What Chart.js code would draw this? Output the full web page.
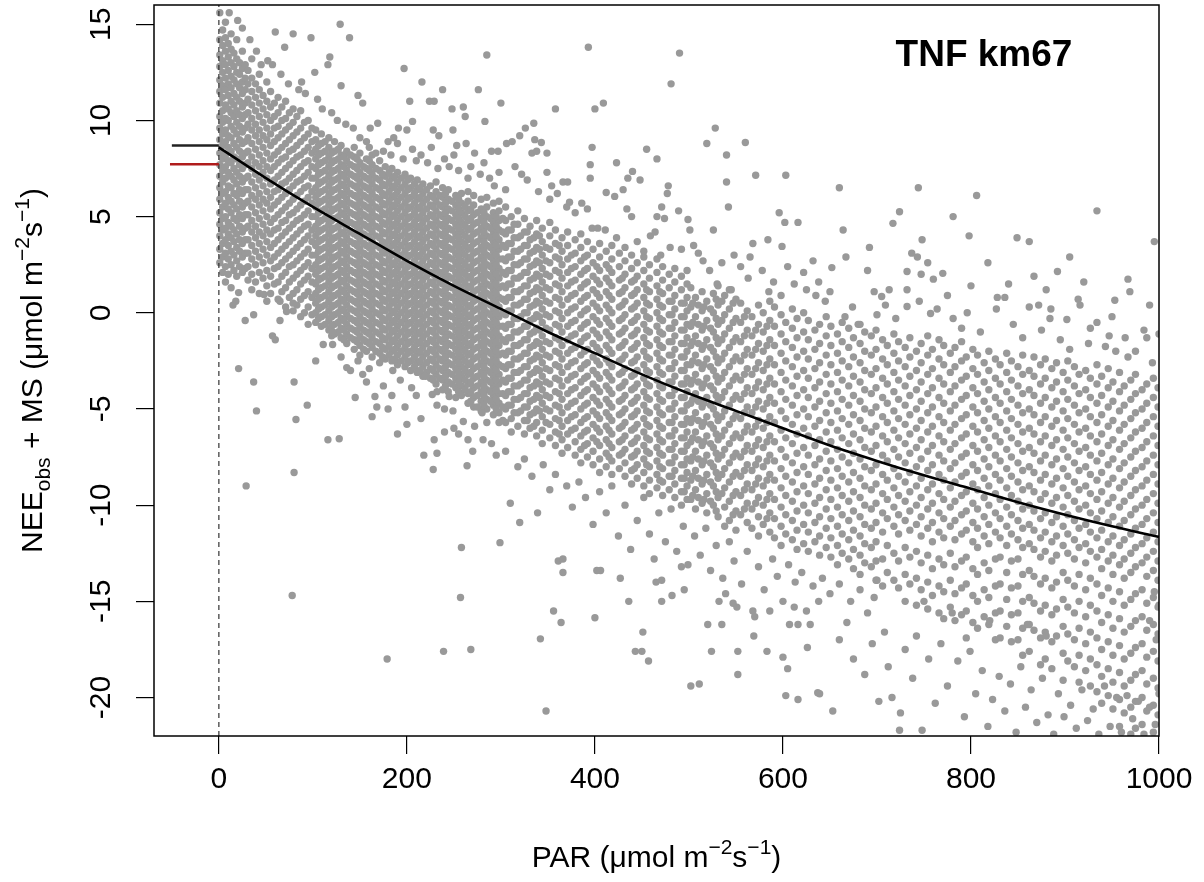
<!DOCTYPE html>
<html><head><meta charset="utf-8">
<script src="https://cdn.jsdelivr.net/npm/chart.js@4.4.1/dist/chart.umd.min.js"></script>
<style>html,body{margin:0;padding:0;background:#fff}canvas{display:block}</style>
</head><body>
<canvas id="c" width="1204" height="882"></canvas>
<script>
// ---------- DATA ----------
const xTicks = [0, 200, 400, 600, 800, 1000];
const yTicks = [-20, -15, -10, -5, 0, 5, 10, 15];

// fitted light-response curve (PAR, NEE)
const curvePar = [0,50,100,150,200,250,300,350,400,450,500,550,600,650,700,750,800,850,900,950,1000];
const curveNee = [8.6,7.0,5.5,4.1,2.7,1.4,0.2,-1.0,-2.1,-3.2,-4.2,-5.1,-6.0,-6.9,-7.7,-8.45,-9.15,-9.85,-10.5,-11.1,-11.65];

// short reference bars left of PAR = 0
const blackBarPar = [-50, 0];
const blackBarNee = [8.7, 8.7];
const redBarPar = [-52, 0];
const redBarNee = [7.72, 7.72];

// scatter cloud, stored as strips: [PAR, NEE, NEE, ...]
const stripsNearZero = [
[1,15.6,14.2,13.4,12.8,12.1,11.5,10.9,10.2,9.6,9.0,8.3,7.7,7.1,6.5,5.9,5.2,4.6,4.0,3.3,2.6],
[4,14.7,13.9,13.1,12.5,11.8,11.2,10.5,9.9,9.3,8.7,8.0,7.4,6.8,6.2,5.5,4.9,4.3,3.6,2.9,2.1],
[7,15.1,14.3,13.6,12.9,12.2,11.6,10.8,10.1,9.5,8.9,8.2,7.6,7.0,6.3,5.7,5.0,4.4,3.8,3.1,2.4,1.6],
[10,14.0,13.3,12.6,11.9,11.3,10.6,10.0,9.2,8.6,7.9,7.3,6.6,6.0,5.4,4.7,4.1,3.5,2.8,2.0],
[13,14.5,13.7,13.0,12.3,11.7,11.0,10.4,9.7,9.1,8.4,7.8,7.1,6.5,5.8,5.2,4.5,3.9,3.2,2.5,1.3],
[16,13.5,12.8,12.1,11.4,10.8,10.2,9.5,8.8,8.1,7.5,6.9,6.2,5.6,4.9,4.3,3.7,3.0,2.2],
[19,14.2,13.2,12.5,11.9,11.2,10.5,9.9,9.3,8.6,8.0,7.3,6.7,6.1,5.4,4.8,4.1,3.4,2.7,1.9],
[22,13.0,12.4,11.7,11.0,10.3,9.7,9.0,8.4,7.7,7.1,6.4,5.8,5.1,4.5,3.8,3.2,2.4],
[25,13.6,12.7,12.0,11.4,10.7,10.1,9.4,8.8,8.1,7.5,6.8,6.2,5.5,4.9,4.2,3.6,2.9,2.1],
[28,12.9,12.2,11.6,10.9,10.3,9.6,8.9,8.3,7.7,7.0,6.4,5.7,5.1,4.4,3.8,3.1,2.3]
];
const stripsLow = [
[31,12.6,11.9,11.1,10.4,9.8,9.1,8.4,7.8,7.1,6.4,5.8,5.1,4.5,3.8,3.1,2.4,1.7],
[35,13.2,12.2,11.5,10.8,10.1,9.5,8.8,8.1,7.5,6.8,6.1,5.5,4.8,4.2,3.5,2.8,2.0,1.2],
[39,11.9,11.2,10.5,9.8,9.2,8.5,7.8,7.2,6.5,5.9,5.2,4.5,3.9,3.2,2.5,1.6],
[43,12.4,11.6,10.9,10.2,9.5,8.9,8.2,7.6,6.9,6.2,5.6,4.9,4.2,3.6,2.9,2.1,1.0],
[47,11.3,10.6,9.9,9.2,8.6,7.9,7.3,6.6,5.9,5.3,4.6,4.0,3.3,2.6,1.8],
[51,12.0,11.0,10.3,9.6,9.0,8.3,7.6,7.0,6.3,5.7,5.0,4.3,3.7,3.0,2.2,1.4,0.6],
[55,11.5,10.7,10.0,9.3,8.7,8.0,7.4,6.7,6.0,5.4,4.7,4.1,3.4,2.7,1.9,1.0],
[59,10.9,10.2,9.6,8.9,8.2,7.6,6.9,6.3,5.6,4.9,4.3,3.6,2.9,2.3,1.5],
[63,11.2,10.4,9.7,9.1,8.4,7.8,7.1,6.4,5.8,5.1,4.4,3.8,3.1,2.4,1.6,0.7],
[67,10.7,10.0,9.3,8.6,8.0,7.3,6.7,6.0,5.3,4.7,4.0,3.3,2.6,1.9,1.1],
[71,11.0,10.1,9.5,8.8,8.1,7.5,6.8,6.2,5.5,4.8,4.2,3.5,2.8,2.1,1.3,0.3],
[75,10.4,9.7,9.0,8.4,7.7,7.0,6.4,5.7,5.1,4.4,3.7,3.0,2.4,1.6,0.8],
[79,10.6,9.9,9.2,8.5,7.9,7.2,6.6,5.9,5.2,4.6,3.9,3.2,2.5,1.8,1.0,0.1],
[83,10.2,9.4,8.7,8.1,7.4,6.8,6.1,5.4,4.8,4.1,3.4,2.7,2.0,1.2,0.4],
[87,10.5,9.6,8.9,8.2,7.6,6.9,6.3,5.6,4.9,4.3,3.6,2.9,2.2,1.5,0.7,-0.2],
[91,9.9,9.1,8.4,7.8,7.1,6.5,5.8,5.1,4.5,3.8,3.1,2.4,1.7,0.9,0.0],
[95,10.0,9.3,8.6,7.9,7.3,6.6,6.0,5.3,4.6,4.0,3.3,2.6,1.9,1.1,0.3,-0.6],
[99,9.6,8.9,8.3,7.6,7.0,6.3,5.7,5.0,4.3,3.7,3.0,2.3,1.6,0.8,-0.1]
];
const stripsMid = [
[103,9.5,9.0,8.5,8.0,7.5,7.0,6.5,6.0,5.5,5.0,4.5,4.0,3.5,3.0,2.5,2.0,1.5,1.0,0.5,0.0,-0.5],
[109,9.3,8.8,8.3,7.8,7.3,6.8,6.3,5.8,5.3,4.8,4.3,3.8,3.3,2.8,2.3,1.8,1.3,0.8,0.3,-0.2,-0.7],
[117,9.1,8.6,8.1,7.6,7.1,6.6,6.1,5.6,5.1,4.6,4.1,3.6,3.1,2.6,2.1,1.6,1.1,0.6,0.1,-0.4,-0.9],
[123,8.9,8.4,7.9,7.4,6.9,6.4,5.9,5.4,4.9,4.4,3.9,3.4,2.9,2.4,1.9,1.4,0.9,0.4,-0.1,-0.6,-1.1],
[130,8.7,8.2,7.7,7.2,6.7,6.2,5.7,5.2,4.7,4.2,3.7,3.2,2.7,2.2,1.7,1.2,0.7,0.2,-0.3,-0.8,-1.3],
[136,8.4,7.9,7.4,6.9,6.4,5.9,5.4,4.9,4.4,3.9,3.4,2.9,2.4,1.9,1.4,0.9,0.4,-0.1,-0.6,-1.1,-1.6],
[144,8.6,8.1,7.6,7.1,6.6,6.1,5.6,5.1,4.6,4.1,3.6,3.1,2.6,2.1,1.6,1.1,0.6,0.1,-0.4,-0.9,-1.4,-1.9],
[150,8.3,7.8,7.3,6.8,6.3,5.8,5.3,4.8,4.3,3.8,3.3,2.8,2.3,1.8,1.3,0.8,0.3,-0.2,-0.7,-1.2,-1.7,-2.2],
[157,8.0,7.5,7.0,6.5,6.0,5.5,5.0,4.5,4.0,3.5,3.0,2.5,2.0,1.5,1.0,0.5,0.0,-0.5,-1.0,-1.5,-2.0],
[163,8.2,7.7,7.2,6.7,6.2,5.7,5.2,4.7,4.2,3.7,3.2,2.7,2.2,1.7,1.2,0.7,0.2,-0.3,-0.8,-1.3,-1.8,-2.3],
[171,7.9,7.4,6.9,6.4,5.9,5.4,4.9,4.4,3.9,3.4,2.9,2.4,1.9,1.4,0.9,0.4,-0.1,-0.6,-1.1,-1.6,-2.1,-2.6],
[177,7.6,7.1,6.6,6.1,5.6,5.1,4.6,4.1,3.6,3.1,2.6,2.1,1.6,1.1,0.6,0.1,-0.4,-0.9,-1.4,-1.9,-2.4],
[184,7.5,7.0,6.5,6.0,5.5,5.0,4.5,4.0,3.5,3.0,2.5,2.0,1.5,1.0,0.5,0.0,-0.5,-1.0,-1.5,-2.0,-2.5],
[190,7.3,6.8,6.3,5.8,5.3,4.8,4.3,3.8,3.3,2.8,2.3,1.8,1.3,0.8,0.3,-0.2,-0.7,-1.2,-1.7,-2.2,-2.7],
[198,7.2,6.7,6.2,5.7,5.2,4.7,4.2,3.7,3.2,2.7,2.2,1.7,1.2,0.7,0.2,-0.3,-0.8,-1.3,-1.8,-2.3,-2.8],
[204,7.0,6.5,6.0,5.5,5.0,4.5,4.0,3.5,3.0,2.5,2.0,1.5,1.0,0.5,0.0,-0.5,-1.0,-1.5,-2.0,-2.5,-3.0],
[211,6.9,6.4,5.9,5.4,4.9,4.4,3.9,3.4,2.9,2.4,1.9,1.4,0.9,0.4,-0.1,-0.6,-1.1,-1.6,-2.1,-2.6,-3.1],
[217,6.7,6.2,5.7,5.2,4.7,4.2,3.7,3.2,2.7,2.2,1.7,1.2,0.7,0.2,-0.3,-0.8,-1.3,-1.8,-2.3,-2.8,-3.3],
[225,6.6,6.1,5.6,5.1,4.6,4.1,3.6,3.1,2.6,2.1,1.6,1.1,0.6,0.1,-0.4,-0.9,-1.4,-1.9,-2.4,-2.9,-3.4],
[231,6.8,6.3,5.8,5.3,4.8,4.3,3.8,3.3,2.8,2.3,1.8,1.3,0.8,0.3,-0.2,-0.7,-1.2,-1.7,-2.2,-2.7,-3.2,-3.7],
[238,6.5,6.0,5.5,5.0,4.5,4.0,3.5,3.0,2.5,2.0,1.5,1.0,0.5,0.0,-0.5,-1.0,-1.5,-2.0,-2.5,-3.0,-3.5,-4.0],
[244,6.4,5.9,5.4,4.9,4.4,3.9,3.4,2.9,2.4,1.9,1.4,0.9,0.4,-0.1,-0.6,-1.1,-1.6,-2.1,-2.6,-3.1,-3.6,-4.1],
[252,6.1,5.6,5.1,4.6,4.1,3.6,3.1,2.6,2.1,1.6,1.1,0.6,0.1,-0.4,-0.9,-1.4,-1.9,-2.4,-2.9,-3.4,-3.9,-4.4],
[258,6.2,5.7,5.2,4.7,4.2,3.7,3.2,2.7,2.2,1.7,1.2,0.7,0.2,-0.3,-0.8,-1.3,-1.8,-2.3,-2.8,-3.3,-3.8,-4.3],
[265,6.3,5.8,5.3,4.8,4.3,3.8,3.3,2.8,2.3,1.8,1.3,0.8,0.3,-0.2,-0.7,-1.2,-1.7,-2.2,-2.7,-3.2,-3.7,-4.2,-4.7],
[271,6.1,5.6,5.1,4.6,4.1,3.6,3.1,2.6,2.1,1.6,1.1,0.6,0.1,-0.4,-0.9,-1.4,-1.9,-2.4,-2.9,-3.4,-3.9,-4.4,-4.9],
[279,5.9,5.4,4.9,4.4,3.9,3.4,2.9,2.4,1.9,1.4,0.9,0.4,-0.1,-0.6,-1.1,-1.6,-2.1,-2.6,-3.1,-3.6,-4.1,-4.6,-5.1],
[285,6.0,5.5,5.0,4.5,4.0,3.5,3.0,2.5,2.0,1.5,1.0,0.5,0.0,-0.5,-1.0,-1.5,-2.0,-2.5,-3.0,-3.5,-4.0,-4.5,-5.0],
[292,5.7,5.2,4.7,4.2,3.7,3.2,2.7,2.2,1.7,1.2,0.7,0.2,-0.3,-0.8,-1.3,-1.8,-2.3,-2.8,-3.3,-3.8,-4.3,-4.8,-5.3],
[298,5.8,5.3,4.8,4.3,3.8,3.3,2.8,2.3,1.8,1.3,0.8,0.3,-0.2,-0.7,-1.2,-1.7,-2.2,-2.7,-3.2,-3.7,-4.2,-4.7,-5.2,-5.7]
];
// extra points filling the dense core between the strips above
const stripsMidFill = [
[106,8.7,8.2,7.7,7.2,6.7,6.2,5.7,5.2,4.7,4.2,3.7,3.2,2.7,2.2,1.7,1.2,0.7,0.2,-0.3],
[113,8.9,8.4,7.9,7.4,6.9,6.4,5.9,5.4,4.9,4.4,3.9,3.4,2.9,2.4,1.9,1.4,0.9,0.4,-0.1,-0.6],
[120,8.3,7.8,7.3,6.8,6.3,5.8,5.3,4.8,4.3,3.8,3.3,2.8,2.3,1.8,1.3,0.8,0.3,-0.2,-0.7,-1.2],
[127,8.5,8.0,7.5,7.0,6.5,6.0,5.5,5.0,4.5,4.0,3.5,3.0,2.5,2.0,1.5,1.0,0.5,0.0,-0.5,-1.0],
[133,8.1,7.6,7.1,6.6,6.1,5.6,5.1,4.6,4.1,3.6,3.1,2.6,2.1,1.6,1.1,0.6,0.1,-0.4,-0.9,-1.4],
[140,8.2,7.7,7.2,6.7,6.2,5.7,5.2,4.7,4.2,3.7,3.2,2.7,2.2,1.7,1.2,0.7,0.2,-0.3,-0.8,-1.3],
[147,8.0,7.5,7.0,6.5,6.0,5.5,5.0,4.5,4.0,3.5,3.0,2.5,2.0,1.5,1.0,0.5,0.0,-0.5,-1.0,-1.5],
[154,7.6,7.1,6.6,6.1,5.6,5.1,4.6,4.1,3.6,3.1,2.6,2.1,1.6,1.1,0.6,0.1,-0.4,-0.9,-1.4,-1.9],
[160,7.9,7.4,6.9,6.4,5.9,5.4,4.9,4.4,3.9,3.4,2.9,2.4,1.9,1.4,0.9,0.4,-0.1,-0.6,-1.1,-1.6],
[167,7.5,7.0,6.5,6.0,5.5,5.0,4.5,4.0,3.5,3.0,2.5,2.0,1.5,1.0,0.5,0.0,-0.5,-1.0,-1.5,-2.0],
[174,7.2,6.7,6.2,5.7,5.2,4.7,4.2,3.7,3.2,2.7,2.2,1.7,1.2,0.7,0.2,-0.3,-0.8,-1.3,-1.8,-2.3],
[181,7.3,6.8,6.3,5.8,5.3,4.8,4.3,3.8,3.3,2.8,2.3,1.8,1.3,0.8,0.3,-0.2,-0.7,-1.2,-1.7,-2.2],
[187,7.1,6.6,6.1,5.6,5.1,4.6,4.1,3.6,3.1,2.6,2.1,1.6,1.1,0.6,0.1,-0.4,-0.9,-1.4,-1.9,-2.4],
[194,7.0,6.5,6.0,5.5,5.0,4.5,4.0,3.5,3.0,2.5,2.0,1.5,1.0,0.5,0.0,-0.5,-1.0,-1.5,-2.0,-2.5],
[201,6.9,6.4,5.9,5.4,4.9,4.4,3.9,3.4,2.9,2.4,1.9,1.4,0.9,0.4,-0.1,-0.6,-1.1,-1.6,-2.1,-2.6],
[208,6.7,6.2,5.7,5.2,4.7,4.2,3.7,3.2,2.7,2.2,1.7,1.2,0.7,0.2,-0.3,-0.8,-1.3,-1.8,-2.3,-2.8],
[214,6.5,6.0,5.5,5.0,4.5,4.0,3.5,3.0,2.5,2.0,1.5,1.0,0.5,0.0,-0.5,-1.0,-1.5,-2.0,-2.5,-3.0],
[221,6.4,5.9,5.4,4.9,4.4,3.9,3.4,2.9,2.4,1.9,1.4,0.9,0.4,-0.1,-0.6,-1.1,-1.6,-2.1,-2.6,-3.1],
[228,6.0,5.5,5.0,4.5,4.0,3.5,3.0,2.5,2.0,1.5,1.0,0.5,0.0,-0.5,-1.0,-1.5,-2.0,-2.5,-3.0,-3.5],
[235,6.1,5.6,5.1,4.6,4.1,3.6,3.1,2.6,2.1,1.6,1.1,0.6,0.1,-0.4,-0.9,-1.4,-1.9,-2.4,-2.9,-3.4],
[241,6.2,5.7,5.2,4.7,4.2,3.7,3.2,2.7,2.2,1.7,1.2,0.7,0.2,-0.3,-0.8,-1.3,-1.8,-2.3,-2.8,-3.3,-3.8],
[248,5.8,5.3,4.8,4.3,3.8,3.3,2.8,2.3,1.8,1.3,0.8,0.3,-0.2,-0.7,-1.2,-1.7,-2.2,-2.7,-3.2,-3.7],
[255,5.9,5.4,4.9,4.4,3.9,3.4,2.9,2.4,1.9,1.4,0.9,0.4,-0.1,-0.6,-1.1,-1.6,-2.1,-2.6,-3.1,-3.6,-4.1],
[262,5.5,5.0,4.5,4.0,3.5,3.0,2.5,2.0,1.5,1.0,0.5,0.0,-0.5,-1.0,-1.5,-2.0,-2.5,-3.0,-3.5,-4.0],
[268,5.4,4.9,4.4,3.9,3.4,2.9,2.4,1.9,1.4,0.9,0.4,-0.1,-0.6,-1.1,-1.6,-2.1,-2.6,-3.1,-3.6,-4.1,-4.6],
[275,5.2,4.7,4.2,3.7,3.2,2.7,2.2,1.7,1.2,0.7,0.2,-0.3,-0.8,-1.3,-1.8,-2.3,-2.8,-3.3,-3.8,-4.3],
[282,5.2,4.7,4.2,3.7,3.2,2.7,2.2,1.7,1.2,0.7,0.2,-0.3,-0.8,-1.3,-1.8,-2.3,-2.8,-3.3,-3.8,-4.3,-4.8],
[289,4.9,4.4,3.9,3.4,2.9,2.4,1.9,1.4,0.9,0.4,-0.1,-0.6,-1.1,-1.6,-2.1,-2.6,-3.1,-3.6,-4.1,-4.6],
[295,5.0,4.5,4.0,3.5,3.0,2.5,2.0,1.5,1.0,0.5,0.0,-0.5,-1.0,-1.5,-2.0,-2.5,-3.0,-3.5,-4.0,-4.5,-5.0]
];
const stripsUpper = [
[305,5.5,4.8,4.1,3.4,2.7,2.0,1.3,0.6,-0.1,-0.8,-1.5,-2.2,-2.9,-3.6,-4.3,-5.0,-5.7],
[311,5.0,4.3,3.6,2.9,2.2,1.5,0.8,0.1,-0.6,-1.3,-2.0,-2.7,-3.4,-4.1,-4.8,-5.5,-6.2],
[318,5.3,4.6,3.9,3.2,2.5,1.8,1.1,0.4,-0.3,-1.0,-1.7,-2.4,-3.1,-3.8,-4.5,-5.2,-5.9],
[325,4.9,4.2,3.5,2.8,2.1,1.4,0.7,0.0,-0.7,-1.4,-2.1,-2.8,-3.5,-4.2,-4.9,-5.6,-6.3],
[331,4.5,3.8,3.1,2.4,1.7,1.0,0.3,-0.4,-1.1,-1.8,-2.5,-3.2,-3.9,-4.6,-5.3,-6.0],
[338,4.8,4.1,3.4,2.7,2.0,1.3,0.6,-0.1,-0.8,-1.5,-2.2,-2.9,-3.6,-4.3,-5.0,-5.7,-6.4],
[344,4.4,3.7,3.0,2.3,1.6,0.9,0.2,-0.5,-1.2,-1.9,-2.6,-3.3,-4.0,-4.7,-5.4,-6.1,-6.8],
[352,4.7,4.0,3.3,2.6,1.9,1.2,0.5,-0.2,-0.9,-1.6,-2.3,-3.0,-3.7,-4.4,-5.1,-5.8,-6.5],
[358,4.3,3.6,2.9,2.2,1.5,0.8,0.1,-0.6,-1.3,-2.0,-2.7,-3.4,-4.1,-4.8,-5.5,-6.2,-6.9],
[365,3.9,3.2,2.5,1.8,1.1,0.4,-0.3,-1.0,-1.7,-2.4,-3.1,-3.8,-4.5,-5.2,-5.9,-6.6,-7.3],
[371,4.2,3.5,2.8,2.1,1.4,0.7,0.0,-0.7,-1.4,-2.1,-2.8,-3.5,-4.2,-4.9,-5.6,-6.3,-7.0],
[379,3.8,3.1,2.4,1.7,1.0,0.3,-0.4,-1.1,-1.8,-2.5,-3.2,-3.9,-4.6,-5.3,-6.0,-6.7,-7.4],
[385,4.1,3.4,2.7,2.0,1.3,0.6,-0.1,-0.8,-1.5,-2.2,-2.9,-3.6,-4.3,-5.0,-5.7,-6.4,-7.1,-7.8],
[392,3.7,3.0,2.3,1.6,0.9,0.2,-0.5,-1.2,-1.9,-2.6,-3.3,-4.0,-4.7,-5.4,-6.1,-6.8,-7.5],
[398,3.3,2.6,1.9,1.2,0.5,-0.2,-0.9,-1.6,-2.3,-3.0,-3.7,-4.4,-5.1,-5.8,-6.5,-7.2,-7.9],
[405,3.6,2.9,2.2,1.5,0.8,0.1,-0.6,-1.3,-2.0,-2.7,-3.4,-4.1,-4.8,-5.5,-6.2,-6.9,-7.6,-8.3],
[412,3.2,2.5,1.8,1.1,0.4,-0.3,-1.0,-1.7,-2.4,-3.1,-3.8,-4.5,-5.2,-5.9,-6.6,-7.3,-8.0],
[418,3.5,2.8,2.1,1.4,0.7,0.0,-0.7,-1.4,-2.1,-2.8,-3.5,-4.2,-4.9,-5.6,-6.3,-7.0,-7.7,-8.4],
[426,3.1,2.4,1.7,1.0,0.3,-0.4,-1.1,-1.8,-2.5,-3.2,-3.9,-4.6,-5.3,-6.0,-6.7,-7.4,-8.1],
[432,3.4,2.7,2.0,1.3,0.6,-0.1,-0.8,-1.5,-2.2,-2.9,-3.6,-4.3,-5.0,-5.7,-6.4,-7.1,-7.8,-8.5],
[439,3.0,2.3,1.6,0.9,0.2,-0.5,-1.2,-1.9,-2.6,-3.3,-4.0,-4.7,-5.4,-6.1,-6.8,-7.5,-8.2,-8.9],
[445,2.6,1.9,1.2,0.5,-0.2,-0.9,-1.6,-2.3,-3.0,-3.7,-4.4,-5.1,-5.8,-6.5,-7.2,-7.9,-8.6],
[452,2.9,2.2,1.5,0.8,0.1,-0.6,-1.3,-2.0,-2.7,-3.4,-4.1,-4.8,-5.5,-6.2,-6.9,-7.6,-8.3,-9.0],
[458,2.5,1.8,1.1,0.4,-0.3,-1.0,-1.7,-2.4,-3.1,-3.8,-4.5,-5.2,-5.9,-6.6,-7.3,-8.0,-8.7,-9.4],
[466,2.8,2.1,1.4,0.7,0.0,-0.7,-1.4,-2.1,-2.8,-3.5,-4.2,-4.9,-5.6,-6.3,-7.0,-7.7,-8.4,-9.1],
[472,2.4,1.7,1.0,0.3,-0.4,-1.1,-1.8,-2.5,-3.2,-3.9,-4.6,-5.3,-6.0,-6.7,-7.4,-8.1,-8.8,-9.5],
[479,2.0,1.3,0.6,-0.1,-0.8,-1.5,-2.2,-2.9,-3.6,-4.3,-5.0,-5.7,-6.4,-7.1,-7.8,-8.5,-9.2],
[485,2.3,1.6,0.9,0.2,-0.5,-1.2,-1.9,-2.6,-3.3,-4.0,-4.7,-5.4,-6.1,-6.8,-7.5,-8.2,-8.9,-9.6],
[492,1.9,1.2,0.5,-0.2,-0.9,-1.6,-2.3,-3.0,-3.7,-4.4,-5.1,-5.8,-6.5,-7.2,-7.9,-8.6,-9.3,-10.0],
[498,2.2,1.5,0.8,0.1,-0.6,-1.3,-2.0,-2.7,-3.4,-4.1,-4.8,-5.5,-6.2,-6.9,-7.6,-8.3,-9.0,-9.7]
];
const stripsUpperFill = [
[302,4.9,4.2,3.5,2.8,2.1,1.4,0.7,0.0,-0.7,-1.4,-2.1,-2.8,-3.5,-4.2,-4.9,-5.6],
[308,4.3,3.6,2.9,2.2,1.5,0.8,0.1,-0.6,-1.3,-2.0,-2.7,-3.4,-4.1,-4.8],
[314,4.6,3.9,3.2,2.5,1.8,1.1,0.4,-0.3,-1.0,-1.7,-2.4,-3.1,-3.8,-4.5,-5.2],
[321,4.0,3.3,2.6,1.9,1.2,0.5,-0.2,-0.9,-1.6,-2.3,-3.0,-3.7,-4.4,-5.1],
[328,4.2,3.5,2.8,2.1,1.4,0.7,0.0,-0.7,-1.4,-2.1,-2.8,-3.5,-4.2,-4.9,-5.6],
[335,3.9,3.2,2.5,1.8,1.1,0.4,-0.3,-1.0,-1.7,-2.4,-3.1,-3.8,-4.5,-5.2,-5.9],
[341,4.0,3.3,2.6,1.9,1.2,0.5,-0.2,-0.9,-1.6,-2.3,-3.0,-3.7,-4.4,-5.1],
[348,3.4,2.7,2.0,1.3,0.6,-0.1,-0.8,-1.5,-2.2,-2.9,-3.6,-4.3,-5.0,-5.7],
[362,3.5,2.8,2.1,1.4,0.7,0.0,-0.7,-1.4,-2.1,-2.8,-3.5,-4.2,-4.9,-5.6,-6.3],
[375,3.0,2.3,1.6,0.9,0.2,-0.5,-1.2,-1.9,-2.6,-3.3,-4.0,-4.7,-5.4,-6.1],
[389,2.9,2.2,1.5,0.8,0.1,-0.6,-1.3,-2.0,-2.7,-3.4,-4.1,-4.8,-5.5,-6.2,-6.9],
[402,2.4,1.7,1.0,0.3,-0.4,-1.1,-1.8,-2.5,-3.2,-3.9,-4.6,-5.3,-6.0,-6.7],
[415,2.3,1.6,0.9,0.2,-0.5,-1.2,-1.9,-2.6,-3.3,-4.0,-4.7,-5.4,-6.1,-6.8,-7.5],
[429,1.8,1.1,0.4,-0.3,-1.0,-1.7,-2.4,-3.1,-3.8,-4.5,-5.2,-5.9,-6.6,-7.3],
[442,1.7,1.0,0.3,-0.4,-1.1,-1.8,-2.5,-3.2,-3.9,-4.6,-5.3,-6.0,-6.7,-7.4,-8.1],
[455,1.2,0.5,-0.2,-0.9,-1.6,-2.3,-3.0,-3.7,-4.4,-5.1,-5.8,-6.5,-7.2,-7.9],
[469,1.1,0.4,-0.3,-1.0,-1.7,-2.4,-3.1,-3.8,-4.5,-5.2,-5.9,-6.6,-7.3,-8.0,-8.7],
[482,0.6,-0.1,-0.8,-1.5,-2.2,-2.9,-3.6,-4.3,-5.0,-5.7,-6.4,-7.1,-7.8,-8.5],
[495,0.5,-0.2,-0.9,-1.6,-2.3,-3.0,-3.7,-4.4,-5.1,-5.8,-6.5,-7.2,-7.9,-8.6,-9.3]
];
const stripsHigh = [
[502,1.3,0.3,-0.7,-1.7,-2.7,-3.7,-4.7,-5.7,-6.7,-7.7,-8.7,-9.7],
[507,0.8,-0.2,-1.2,-2.2,-3.2,-4.2,-5.2,-6.2,-7.2,-8.2,-9.2,-10.2],
[514,1.1,0.1,-0.9,-1.9,-2.9,-3.9,-4.9,-5.9,-6.9,-7.9,-8.9,-9.9],
[519,0.6,-0.4,-1.4,-2.4,-3.4,-4.4,-5.4,-6.4,-7.4,-8.4,-9.4,-10.4],
[526,1.0,0.0,-1.0,-2.0,-3.0,-4.0,-5.0,-6.0,-7.0,-8.0,-9.0,-10.0],
[531,1.4,0.4,-0.6,-1.6,-2.6,-3.6,-4.6,-5.6,-6.6,-7.6,-8.6,-9.6,-10.6],
[538,0.9,-0.1,-1.1,-2.1,-3.1,-4.1,-5.1,-6.1,-7.1,-8.1,-9.1,-10.1,-11.1],
[543,1.2,0.2,-0.8,-1.8,-2.8,-3.8,-4.8,-5.8,-6.8,-7.8,-8.8,-9.8,-10.8],
[550,0.7,-0.3,-1.3,-2.3,-3.3,-4.3,-5.3,-6.3,-7.3,-8.3,-9.3,-10.3,-11.3],
[555,0.5,-0.5,-1.5,-2.5,-3.5,-4.5,-5.5,-6.5,-7.5,-8.5,-9.5,-10.5],
[562,0.1,-0.9,-1.9,-2.9,-3.9,-4.9,-5.9,-6.9,-7.9,-8.9,-9.9,-10.9],
[567,-0.2,-1.2,-2.2,-3.2,-4.2,-5.2,-6.2,-7.2,-8.2,-9.2,-10.2,-11.2],
[574,0.4,-0.6,-1.6,-2.6,-3.6,-4.6,-5.6,-6.6,-7.6,-8.6,-9.6,-10.6,-11.6],
[579,0.0,-1.0,-2.0,-3.0,-4.0,-5.0,-6.0,-7.0,-8.0,-9.0,-10.0,-11.0],
[586,0.6,-0.4,-1.4,-2.4,-3.4,-4.4,-5.4,-6.4,-7.4,-8.4,-9.4,-10.4,-11.4],
[591,0.3,-0.7,-1.7,-2.7,-3.7,-4.7,-5.7,-6.7,-7.7,-8.7,-9.7,-10.7,-11.7],
[598,-0.1,-1.1,-2.1,-3.1,-4.1,-5.1,-6.1,-7.1,-8.1,-9.1,-10.1,-11.1,-12.1],
[603,-0.5,-1.5,-2.5,-3.5,-4.5,-5.5,-6.5,-7.5,-8.5,-9.5,-10.5,-11.5],
[610,0.2,-0.8,-1.8,-2.8,-3.8,-4.8,-5.8,-6.8,-7.8,-8.8,-9.8,-10.8,-11.8],
[615,-0.3,-1.3,-2.3,-3.3,-4.3,-5.3,-6.3,-7.3,-8.3,-9.3,-10.3,-11.3,-12.3],
[622,0.0,-1.0,-2.0,-3.0,-4.0,-5.0,-6.0,-7.0,-8.0,-9.0,-10.0,-11.0,-12.0],
[627,-0.4,-1.4,-2.4,-3.4,-4.4,-5.4,-6.4,-7.4,-8.4,-9.4,-10.4,-11.4,-12.4],
[634,-0.9,-1.9,-2.9,-3.9,-4.9,-5.9,-6.9,-7.9,-8.9,-9.9,-10.9,-11.9],
[639,-0.6,-1.6,-2.6,-3.6,-4.6,-5.6,-6.6,-7.6,-8.6,-9.6,-10.6,-11.6,-12.6],
[646,-0.2,-1.2,-2.2,-3.2,-4.2,-5.2,-6.2,-7.2,-8.2,-9.2,-10.2,-11.2,-12.2],
[651,-0.7,-1.7,-2.7,-3.7,-4.7,-5.7,-6.7,-7.7,-8.7,-9.7,-10.7,-11.7,-12.7],
[658,-1.1,-2.1,-3.1,-4.1,-5.1,-6.1,-7.1,-8.1,-9.1,-10.1,-11.1,-12.1,-13.1],
[663,-0.5,-1.5,-2.5,-3.5,-4.5,-5.5,-6.5,-7.5,-8.5,-9.5,-10.5,-11.5,-12.5],
[670,-0.8,-1.8,-2.8,-3.8,-4.8,-5.8,-6.8,-7.8,-8.8,-9.8,-10.8,-11.8,-12.8],
[675,-1.3,-2.3,-3.3,-4.3,-5.3,-6.3,-7.3,-8.3,-9.3,-10.3,-11.3,-12.3,-13.3],
[682,-0.6,-1.6,-2.6,-3.6,-4.6,-5.6,-6.6,-7.6,-8.6,-9.6,-10.6,-11.6,-12.6,-13.6],
[687,-1.0,-2.0,-3.0,-4.0,-5.0,-6.0,-7.0,-8.0,-9.0,-10.0,-11.0,-12.0,-13.0],
[694,-1.2,-2.2,-3.2,-4.2,-5.2,-6.2,-7.2,-8.2,-9.2,-10.2,-11.2,-12.2,-13.2],
[699,-0.9,-1.9,-2.9,-3.9,-4.9,-5.9,-6.9,-7.9,-8.9,-9.9,-10.9,-11.9,-12.9,-13.9]
];
const stripsHighFill = [
[504,0.5,-0.5,-1.5,-2.5,-3.5,-4.5,-5.5,-6.5,-7.5,-8.5,-9.5],
[510,0.4,-0.6,-1.6,-2.6,-3.6,-4.6,-5.6,-6.6,-7.6,-8.6,-9.6],
[516,0.3,-0.7,-1.7,-2.7,-3.7,-4.7,-5.7,-6.7,-7.7,-8.7,-9.7],
[523,0.2,-0.8,-1.8,-2.8,-3.8,-4.8,-5.8,-6.8,-7.8,-8.8,-9.8],
[529,0.7,-0.3,-1.3,-2.3,-3.3,-4.3,-5.3,-6.3,-7.3,-8.3,-9.3,-10.3],
[535,0.6,-0.4,-1.4,-2.4,-3.4,-4.4,-5.4,-6.4,-7.4,-8.4,-9.4],
[547,0.5,-0.5,-1.5,-2.5,-3.5,-4.5,-5.5,-6.5,-7.5,-8.5,-9.5,-10.5],
[559,-0.2,-1.2,-2.2,-3.2,-4.2,-5.2,-6.2,-7.2,-8.2,-9.2,-10.2],
[571,-0.9,-1.9,-2.9,-3.9,-4.9,-5.9,-6.9,-7.9,-8.9,-9.9],
[583,-0.7,-1.7,-2.7,-3.7,-4.7,-5.7,-6.7,-7.7,-8.7,-9.7,-10.7]
];
const stripsTop = [
[706,-1.4,-2.4,-3.4,-4.4,-5.4,-6.4,-7.4,-8.4,-9.4,-10.4,-11.4,-12.8,-14.2],
[711,-1.7,-2.7,-3.7,-4.7,-5.7,-6.7,-7.7,-8.7,-9.7,-10.7,-12.1,-13.5],
[718,-1.1,-2.1,-3.1,-4.1,-5.1,-6.1,-7.1,-8.1,-9.1,-10.1,-11.1,-12.5,-13.9],
[723,-1.5,-2.5,-3.5,-4.5,-5.5,-6.5,-7.5,-8.5,-9.5,-10.5,-11.5,-12.9,-14.3],
[730,-1.8,-2.8,-3.8,-4.8,-5.8,-6.8,-7.8,-8.8,-9.8,-10.8,-12.2,-13.6,-15.0],
[735,-1.3,-2.3,-3.3,-4.3,-5.3,-6.3,-7.3,-8.3,-9.3,-10.3,-11.3,-12.7,-14.1],
[742,-2.0,-3.0,-4.0,-5.0,-6.0,-7.0,-8.0,-9.0,-10.0,-11.0,-12.4,-13.8,-15.2],
[747,-1.6,-2.6,-3.6,-4.6,-5.6,-6.6,-7.6,-8.6,-9.6,-10.6,-11.6,-13.0,-14.4],
[754,-1.2,-2.2,-3.2,-4.2,-5.2,-6.2,-7.2,-8.2,-9.2,-10.2,-11.2,-12.6,-14.0,-15.4],
[759,-1.9,-2.9,-3.9,-4.9,-5.9,-6.9,-7.9,-8.9,-9.9,-10.9,-11.9,-13.3,-14.7],
[766,-1.4,-2.4,-3.4,-4.4,-5.4,-6.4,-7.4,-8.4,-9.4,-10.4,-11.4,-12.8,-14.2,-15.6],
[771,-1.7,-2.7,-3.7,-4.7,-5.7,-6.7,-7.7,-8.7,-9.7,-10.7,-11.7,-13.1,-14.5,-15.9],
[778,-2.1,-3.1,-4.1,-5.1,-6.1,-7.1,-8.1,-9.1,-10.1,-11.1,-12.5,-13.9,-15.3],
[783,-1.8,-2.8,-3.8,-4.8,-5.8,-6.8,-7.8,-8.8,-9.8,-10.8,-11.8,-13.2,-14.6,-16.0],
[790,-1.5,-2.5,-3.5,-4.5,-5.5,-6.5,-7.5,-8.5,-9.5,-10.5,-11.5,-12.9,-14.3,-15.7],
[795,-2.3,-3.3,-4.3,-5.3,-6.3,-7.3,-8.3,-9.3,-10.3,-11.3,-12.7,-14.1,-15.5,-16.9],
[802,-1.9,-2.9,-3.9,-4.9,-5.9,-6.9,-7.9,-8.9,-9.9,-10.9,-11.9,-13.3,-14.7,-16.1],
[807,-2.2,-3.2,-4.2,-5.2,-6.2,-7.2,-8.2,-9.2,-10.2,-11.2,-12.2,-13.6,-15.0,-16.4],
[814,-2.6,-3.6,-4.6,-5.6,-6.6,-7.6,-8.6,-9.6,-10.6,-11.6,-13.0,-14.4,-15.8],
[819,-2.0,-3.0,-4.0,-5.0,-6.0,-7.0,-8.0,-9.0,-10.0,-11.0,-12.0,-13.4,-14.8,-16.2],
[826,-2.4,-3.4,-4.4,-5.4,-6.4,-7.4,-8.4,-9.4,-10.4,-11.4,-12.8,-14.2,-15.6,-17.0],
[831,-2.7,-3.7,-4.7,-5.7,-6.7,-7.7,-8.7,-9.7,-10.7,-11.7,-12.7,-14.1,-15.5,-16.9],
[838,-2.1,-3.1,-4.1,-5.1,-6.1,-7.1,-8.1,-9.1,-10.1,-11.1,-12.1,-13.5,-14.9,-16.3],
[843,-2.5,-3.5,-4.5,-5.5,-6.5,-7.5,-8.5,-9.5,-10.5,-11.5,-12.9,-14.3,-15.7,-17.1],
[850,-2.8,-3.8,-4.8,-5.8,-6.8,-7.8,-8.8,-9.8,-10.8,-11.8,-12.8,-14.2,-15.6,-17.0],
[855,-2.2,-3.2,-4.2,-5.2,-6.2,-7.2,-8.2,-9.2,-10.2,-11.2,-12.2,-13.6,-15.0,-16.4,-17.8],
[862,-3.0,-4.0,-5.0,-6.0,-7.0,-8.0,-9.0,-10.0,-11.0,-12.0,-13.4,-14.8,-16.2,-17.6],
[867,-2.3,-3.3,-4.3,-5.3,-6.3,-7.3,-8.3,-9.3,-10.3,-11.3,-12.3,-13.7,-15.1,-16.5],
[874,-2.7,-3.7,-4.7,-5.7,-6.7,-7.7,-8.7,-9.7,-10.7,-11.7,-12.7,-14.1,-15.5,-16.9,-18.3],
[879,-2.4,-3.4,-4.4,-5.4,-6.4,-7.4,-8.4,-9.4,-10.4,-11.4,-12.4,-13.8,-15.2,-16.6,-18.0],
[886,-2.9,-3.9,-4.9,-5.9,-6.9,-7.9,-8.9,-9.9,-10.9,-11.9,-12.9,-14.3,-15.7,-17.1,-18.5],
[891,-2.6,-3.6,-4.6,-5.6,-6.6,-7.6,-8.6,-9.6,-10.6,-11.6,-12.6,-14.0,-15.4,-16.8],
[898,-3.1,-4.1,-5.1,-6.1,-7.1,-8.1,-9.1,-10.1,-11.1,-12.1,-13.5,-14.9,-16.3,-17.7,-19.1],
[903,-2.5,-3.5,-4.5,-5.5,-6.5,-7.5,-8.5,-9.5,-10.5,-11.5,-12.5,-13.9,-15.3,-16.7,-18.1],
[910,-2.8,-3.8,-4.8,-5.8,-6.8,-7.8,-8.8,-9.8,-10.8,-11.8,-12.8,-14.2,-15.6,-17.0,-18.4],
[915,-3.2,-4.2,-5.2,-6.2,-7.2,-8.2,-9.2,-10.2,-11.2,-12.2,-13.6,-15.0,-16.4,-17.8,-19.2],
[922,-3.0,-4.0,-5.0,-6.0,-7.0,-8.0,-9.0,-10.0,-11.0,-12.0,-13.0,-14.4,-15.8,-17.2,-18.6],
[927,-3.4,-4.4,-5.4,-6.4,-7.4,-8.4,-9.4,-10.4,-11.4,-12.4,-13.8,-15.2,-16.6,-18.0,-19.4],
[934,-2.7,-3.7,-4.7,-5.7,-6.7,-7.7,-8.7,-9.7,-10.7,-11.7,-12.7,-14.1,-15.5,-16.9,-18.3,-19.7],
[939,-3.3,-4.3,-5.3,-6.3,-7.3,-8.3,-9.3,-10.3,-11.3,-12.3,-13.3,-14.7,-16.1,-17.5,-18.9,-20.3],
[946,-2.9,-3.9,-4.9,-5.9,-6.9,-7.9,-8.9,-9.9,-10.9,-11.9,-12.9,-14.3,-15.7,-17.1,-18.5,-19.9],
[951,-3.6,-4.6,-5.6,-6.6,-7.6,-8.6,-9.6,-10.6,-11.6,-12.6,-13.6,-15.0,-16.4,-17.8,-19.2,-20.6],
[958,-3.1,-4.1,-5.1,-6.1,-7.1,-8.1,-9.1,-10.1,-11.1,-12.1,-13.1,-14.5,-15.9,-17.3,-18.7,-20.1,-21.5],
[963,-3.8,-4.8,-5.8,-6.8,-7.8,-8.8,-9.8,-10.8,-11.8,-12.8,-13.8,-15.2,-16.6,-18.0,-19.4,-20.8],
[970,-3.5,-4.5,-5.5,-6.5,-7.5,-8.5,-9.5,-10.5,-11.5,-12.5,-13.5,-14.9,-16.3,-17.7,-19.1,-20.5,-21.9],
[975,-3.2,-4.2,-5.2,-6.2,-7.2,-8.2,-9.2,-10.2,-11.2,-12.2,-13.2,-14.6,-16.0,-17.4,-18.8,-20.2,-21.6],
[982,-4.0,-5.0,-6.0,-7.0,-8.0,-9.0,-10.0,-11.0,-12.0,-13.0,-14.4,-15.8,-17.2,-18.6,-20.0,-21.4],
[987,-3.7,-4.7,-5.7,-6.7,-7.7,-8.7,-9.7,-10.7,-11.7,-12.7,-13.7,-15.1,-16.5,-17.9,-19.3,-20.7],
[994,-3.4,-4.4,-5.4,-6.4,-7.4,-8.4,-9.4,-10.4,-11.4,-12.4,-13.4,-14.8,-16.2,-17.6,-19.0,-20.4,-21.8],
[999,-3.9,-4.9,-5.9,-6.9,-7.9,-8.9,-9.9,-10.9,-11.9,-12.9,-13.9,-15.3,-16.7,-18.1,-19.5,-20.9]
];

// individual scattered points outside the dense band: [PAR, NEE]
const scatterAbove = [
[11,15.6],[60,14.6],[79,14.5],[70,13.8],[98,14.3],[129,15.0],[139,14.3],[116,12.9],[130,11.8],[148,11.3],[153,10.9],[161,9.6],[169,9.85],[191,9.6],[200,9.5],[206,9.95],[197,12.7],[216,12.0],[238,11.6],[276,11.6],[285,13.4],[203,11.0],[224,11.0],[229,11.0],[248,10.6],[260,10.7],[262,10.2],[283,9.95],[249,9.5],[228,9.5],[234,9.2],[253,8.7],[263,8.8],[272,8.3],[206,8.5],[180,8.9],[186,9.1],[190,8.8],
[40,13.6],[45,12.9],[52,13.1],[33,14.2],[25,14.8],[20,15.2],[88,12.0],[92,11.4],[105,11.1],[110,10.6],[120,10.4],[126,10.0],[135,9.8],[143,9.6],[85,11.6],[66,12.4],[74,11.9],[57,12.9],[118,13.3],[102,12.5],
[160,8.6],[167,8.3],[175,8.4],[196,8.0],[210,7.9],[215,8.2],[222,7.8],[240,8.0],[245,7.6],[255,7.4],[268,7.6],[278,7.2],[288,7.0],[150,9.1],[157,8.9],[183,8.2],[226,8.6],[233,7.5],[250,8.2],[265,7.0],[282,7.8],[293,6.6],[298,7.3],
[300,10.9],[358,10.6],[393,13.8],[400,10.6],[409,10.9],[490,13.5],[481,11.9],[528,9.6],[519,8.8],[560,8.85],[540,8.2],[397,8.6],[455,8.5],[466,8.0],[423,7.8],[395,7.7],[440,7.35],[435,7.0],[448,6.9],[395,7.0],[349,7.3],[335,9.85],[326,9.6],[320,9.2],[336,9.0],[343,8.85],[333,8.3],[338,8.4],[349,8.3],[306,8.8],[312,8.9],[290,8.4],[297,8.4],[571,7.15],[603,7.15],[540,6.8],[542,5.5],[478,6.6],[477,6.2],[471,5.5],[474,4.9],[466,5.0],[430,6.4],[421,6.05],[412,6.25],[489,5.3],[499,4.85],[501,4.3],[526,4.3],[596,5.2],[602,4.7],[616,4.7],[568,3.6],[584,3.8],[599,3.45],[397,4.4],[403,4.4],[411,4.3],[434,5.4],[439,5.0],[423,3.9],[459,4.0],[464,4.2],[480,3.4],[492,3.3],[505,3.5],[386,5.7],[392,5.4],[373,5.75],[370,5.5],[379,5.2],[366,6.8],[371,6.8],[354,6.6],[352,5.9],[315,7.6],[322,7.2],[328,6.9],[340,6.3],[305,6.4],[360,6.2],[445,3.7],[452,3.2],[470,3.0],[515,2.7],[522,2.2],[535,2.6],[548,3.0],[555,2.4],[563,1.8],[578,2.2],[590,1.6],[612,1.5],[622,2.1],[510,3.1],[530,1.5],[545,1.2],[565,2.9],[585,1.1],[605,2.4],[598,0.9],[625,1.2],
[660,6.5],[744,6.5],[806,6.1],[724,5.25],[717,4.65],[781,5.0],[934,5.3],[664,4.3],[748,3.8],[798,4.0],[849,3.9],[862,3.7],[995,3.7],[692,3.4],[667,2.9],[632,2.7],[652,2.35],[737,3.1],[743,2.9],[754,2.6],[732,2.15],[747,2.0],[760,1.75],[770,2.05],[867,1.9],[892,2.15],[967,1.75],[969,1.1],[953,0.65],[638,1.6],[635,0.9],[645,0.6],[650,1.1],[674,0.3],[666,-0.2],[697,1.1],[705,0.85],[713,1.2],[709,0.4],[732,1.2],[732,0.33],[745,0.6],[764,0.2],[757,-0.04],[781,-0.3],[796,0.0],[828,0.8],[836,0.8],[827,0.2],[862,0.3],[872,0.4],[885,0.2],[884,-0.3],[902,-0.35],[914,0.7],[916,0.4],[984,-0.9],[987,-1.3],[1000,-1.1],[964,-1.3],[967,-2.3],[934,-0.5],[927,-0.8],[947,-1.2],[943,-1.75],[954,-2.0],[993,-2.6],[680,-0.6],[720,-0.3],[790,-0.8],[810,-1.0],[845,-0.6],[855,-1.3],[875,-0.9],[895,-1.4],[905,-1.9],[925,-1.6],[975,-2.0],[818,2.6],[840,1.5],[880,1.2],[905,2.9],[920,1.6],[950,-0.2],[990,0.4],[690,2.2],[700,-0.1],[775,0.9],[800,1.4]
];
const scatterBelow = [
[21,-2.9],[37,-3.6],[40,-5.1],[29,-9.0],[80,-3.6],[82,-5.55],[94,-4.8],[80,-8.3],[116,-6.6],[128,-6.55],[103,-2.5],[57,-1.2],[60,-1.4],[28,-0.4],[37,-0.1],[21,1.05],[18,0.6],[15,0.4],[48,0.95],[65,-0.4],[72,0.07],[79,0.5],[65,0.6],[111,-1.65],[121,-1.65],[121,-1.0],[130,-2.3],[136,-2.85],[148,-2.5],[153,-3.2],[157,-3.6],[166,-4.35],[168,-4.9],[163,-5.4],[180,-5.0],[184,-4.3],[198,-4.9],[193,-3.5],[210,-4.3],[220,-3.3],[227,-4.25],[232,-4.1],[232,-4.8],[190,-6.3],[218,-7.4],[229,-6.6],[232,-7.3],[228,-8.15],[255,-6.3],[270,-7.2],[264,-7.95],[245,-4.35],[249,-5.1],[260,-5.65],[272,-5.9],[281,-6.6],[280,-5.2],[285,-5.7],[78,-14.7],[258,-12.2],[257,-14.8],[179,-18.0],[239,-17.6],[268,-17.5],[140,-3.0],[175,-3.8],[205,-3.9],[215,-5.5],[240,-5.0],[290,-6.8],[295,-7.4],[145,-4.4],[160,-2.9],[185,-3.0],[200,-5.8],[250,-6.0],[265,-6.6],[275,-4.9],[240,-6.2],
[299,-11.95],[310,-9.9],[320,-10.9],[339,-10.4],[356,-15.5],[364,-16.1],[342,-16.95],[348,-20.7],[400,-15.85],[451,-16.6],[443,-17.6],[450,-17.6],[457,-18.1],[502,-19.4],[511,-19.3],[361,-12.9],[366,-12.8],[366,-13.5],[402,-13.4],[406,-13.4],[427,-13.8],[436,-15.0],[471,-15.0],[482,-14.7],[495,-14.4],[492,-13.2],[465,-14.0],[471,-13.9],[520,-16.2],[535,-16.2],[524,-17.6],[552,-17.6],[552,-18.8],[569,-16.8],[583,-17.6],[600,-17.9],[605,-18.5],[603,-19.9],[616,-20.1],[626,-17.4],[607,-16.2],[616,-16.2],[629,-16.2],[637,-19.75],[586,-15.5],[570,-15.8],[568,-15.5],[551,-15.3],[547,-15.1],[539,-14.6],[532,-15.0],[600,-15.0],[612,-15.3],[625,-15.5],[638,-15.0],
[305,-7.2],[318,-8.0],[325,-7.6],[333,-8.5],[345,-7.9],[352,-9.2],[358,-8.4],[370,-9.0],[376,-10.1],[383,-8.8],[390,-9.6],[398,-11.0],[405,-9.3],[412,-10.4],[418,-9.0],[425,-11.6],[432,-10.0],[438,-12.3],[445,-10.8],[452,-9.6],[458,-11.5],[463,-12.8],[468,-10.4],[475,-11.9],[481,-10.2],[487,-12.4],[494,-11.1],[499,-13.1],[506,-11.6],[512,-12.6],[518,-11.2],[523,-13.4],[529,-12.1],[536,-13.8],[543,-11.9],[548,-12.9],[556,-14.1],[562,-12.4],[574,-13.2],[580,-14.4],[589,-12.8],[594,-13.7],[606,-13.1],[613,-14.0],[620,-13.5],[632,-14.2],[642,-13.8],[650,-14.6],[660,-14.1],[672,-15.0],[682,-14.4],[690,-15.6],[697,-14.8],
[639,-19.8],[653,-20.7],[687,-18.8],[702,-20.2],[724,-21.7],[748,-21.7],[725,-20.8],[716,-20.0],[660,-17.0],[668,-16.1],[675,-18.0],[695,-17.2],[708,-16.6],[712,-18.4],[730,-17.5],[738,-19.0],[742,-16.8],[755,-18.0],[762,-20.3],[768,-17.2],[775,-19.4],[786,-18.1],[793,-21.0],[799,-17.6],[805,-19.8],[812,-18.6],[818,-21.5],[823,-20.1],[830,-18.9],[836,-20.7],[842,-19.3],[848,-21.8],[853,-18.4],[858,-20.5],[864,-19.6],[870,-21.3],[876,-19.0],[882,-20.9],[888,-21.9],[893,-19.8],[899,-21.0],[906,-20.4],[912,-21.6],[918,-19.6],[924,-21.2],[930,-20.6],[936,-21.9],[942,-19.4],[948,-21.5],[955,-20.0],[960,-21.8],[966,-19.9],[972,-21.1],[978,-20.2],[984,-21.9],[990,-20.5],[996,-21.4],[1000,-19.8],[997,-17.0],[990,-16.0],[1000,-15.2],[995,-14.5],[880,-16.8],[860,-16.2],[820,-16.0],[780,-15.6],[750,-15.0],[700,-13.9]
];

// ---------- build library tables ----------
function fromStrips(list){const out=[];list.forEach(s=>{for(let i=1;i<s.length;i++)out.push({x:s[0],y:s[i]});});return out;}
function fromPairs(list){return list.map(p=>({x:p[0],y:p[1]}));}
function zip(xs,ys){return xs.map((x,i)=>({x:x,y:ys[i]}));}
const cloud = [].concat(
  fromStrips(stripsNearZero),fromStrips(stripsLow),fromStrips(stripsMid),fromStrips(stripsMidFill),
  fromStrips(stripsUpper),fromStrips(stripsUpperFill),fromStrips(stripsHigh),fromStrips(stripsHighFill),
  fromStrips(stripsTop),fromPairs(scatterAbove),fromPairs(scatterBelow));

const FONT = "'Liberation Sans', Arial, Helvetica, sans-serif";

function richWidth(ctx, parts, size){
  let w=0;
  parts.forEach(p=>{ctx.font=(p[1]==='n'?size:Math.round(size*0.7))+'px '+FONT; w+=ctx.measureText(p[0]).width;});
  return w;
}
function drawRich(ctx, parts, size, x, y){
  let cx=x;
  parts.forEach(p=>{
    const s = p[1]==='n'?size:Math.round(size*0.7);
    ctx.font=s+'px '+FONT;
    let dy=0;
    if(p[1]==='sub') dy=size*0.28;
    if(p[1]==='sup') dy=-size*0.42;
    ctx.fillText(p[0],cx,y+dy);
    cx+=ctx.measureText(p[0]).width;
  });
}

const decor = {
  id:'decor',
  afterDraw(chart){
    const ctx=chart.ctx, a=chart.chartArea, ys=chart.scales.y;
    ctx.save();
    ctx.strokeStyle='#000'; ctx.lineWidth=1.5;
    ctx.strokeRect(a.left,a.top,a.right-a.left,a.bottom-a.top);
    ctx.fillStyle='#000'; ctx.textAlign='center'; ctx.textBaseline='alphabetic';
    ctx.font='30px '+FONT;
    yTicks.forEach(v=>{
      const py=ys.getPixelForValue(v);
      ctx.save(); ctx.translate(110,py); ctx.rotate(-Math.PI/2);
      ctx.fillText(String(v),0,0); ctx.restore();
    });
    ctx.textAlign='left';
    const yParts=[['NEE','n'],['obs','sub'],[' + MS (\u03bcmol m','n'],['\u22122','sup'],['s','n'],['\u22121','sup'],[')','n']];
    const yw=richWidth(ctx,yParts,30);
    ctx.save(); ctx.translate(42,(a.top+a.bottom)/2); ctx.rotate(-Math.PI/2);
    drawRich(ctx,yParts,30,-yw/2,0); ctx.restore();
    const xParts=[['PAR (\u03bcmol m','n'],['\u22122','sup'],['s','n'],['\u22121','sup'],[')','n']];
    const xw=richWidth(ctx,xParts,30);
    drawRich(ctx,xParts,30,(a.left+a.right)/2-xw/2,867);
    ctx.font='bold 37px '+FONT; ctx.textAlign='center';
    ctx.fillText('TNF km67',984,66);
    ctx.restore();
  }
};

new Chart(document.getElementById('c'),{
  type:'scatter',
  data:{datasets:[
    {type:'line',data:zip(curvePar,curveNee),borderColor:'#000',borderWidth:2.6,pointRadius:0,tension:0.4,cubicInterpolationMode:'monotone',order:1},
    {type:'line',data:zip(blackBarPar,blackBarNee),borderColor:'#222',borderWidth:2.6,pointRadius:0,order:1,clip:false},
    {type:'line',data:zip(redBarPar,redBarNee),borderColor:'#b01c1c',borderWidth:2.6,pointRadius:0,order:1,clip:false},
    {type:'line',data:[{x:0,y:-22},{x:0,y:16}],borderColor:'#333',borderWidth:1.2,borderDash:[5,4],pointRadius:0,order:2},
    {data:cloud,backgroundColor:'#999999',borderWidth:0,pointRadius:3.7,pointHoverRadius:3.7,order:5}
  ]},
  options:{
    responsive:false,animation:false,devicePixelRatio:1,
    layout:{padding:{top:5,right:45,left:0,bottom:0}},
    plugins:{legend:{display:false},tooltip:{enabled:false}},
    events:[],
    scales:{
      x:{type:'linear',min:-69,max:1000,
        afterFit(s){s.height=146;},
        afterBuildTicks(s){s.ticks=xTicks.map(v=>({value:v}));},
        grid:{drawOnChartArea:false,drawTicks:true,tickLength:18,color:'#000',lineWidth:1.2},
        border:{display:false},
        ticks:{color:'#000',font:{family:FONT,size:30},padding:8,maxRotation:0,autoSkip:false,callback:(v)=>String(v)}},
      y:{type:'linear',min:-22,max:16,
        afterFit(s){s.width=154;},
        afterBuildTicks(s){s.ticks=yTicks.map(v=>({value:v}));},
        grid:{drawOnChartArea:false,drawTicks:true,tickLength:18,color:'#000',lineWidth:1.2},
        border:{display:false},
        ticks:{display:false}}
    }
  },
  plugins:[decor]
});
</script>
</body></html>
